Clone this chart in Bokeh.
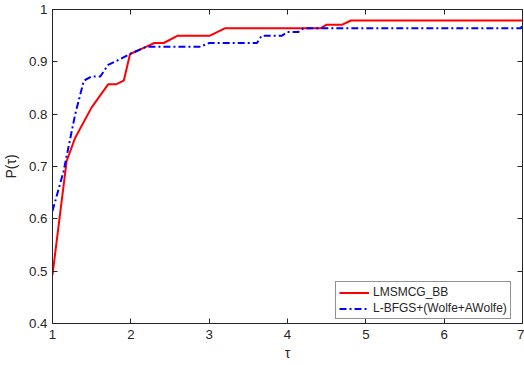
from bokeh.plotting import figure
from bokeh.models import Range1d, FixedTicker, LinearAxis, Legend, LegendItem
from bokeh.embed import file_html
from bokeh.resources import INLINE

# ---- data ----
red_tau = [1.0, 1.18, 1.29, 1.50, 1.71, 1.81, 1.91, 1.99, 2.20, 2.30, 2.42, 2.60, 3.01, 3.20, 4.42, 4.50, 4.70, 4.81, 7.0]
red_p = [0.493, 0.710, 0.755, 0.813, 0.857, 0.857, 0.864, 0.915, 0.929, 0.936, 0.936, 0.950, 0.950, 0.964, 0.964, 0.971, 0.971, 0.979, 0.979]

blue_tau = [1.0, 1.14, 1.29, 1.40, 1.50, 1.61, 1.71, 1.86, 1.99, 2.20, 2.89, 3.0, 3.61, 3.67, 3.93, 4.0, 4.14, 4.2, 6.98, 7.0]
blue_p = [0.615, 0.690, 0.800, 0.864, 0.872, 0.872, 0.894, 0.905, 0.915, 0.929, 0.929, 0.936, 0.936, 0.950, 0.950, 0.957, 0.957, 0.964, 0.964, 0.971]

series_names = ["LMSMCG_BB", "L-BFGS+(Wolfe+AWolfe)"]

x_ticks = [1, 2, 3, 4, 5, 6, 7]
x_tick_labels = ["1", "2", "3", "4", "5", "6", "7"]
y_ticks = [0.4, 0.5, 0.6, 0.7, 0.8, 0.9, 1.0]
y_tick_labels = ["0.4", "0.5", "0.6", "0.7", "0.8", "0.9", "1"]

FONT = "Liberation Sans"
TXT = "#262626"

p = figure(width=524, height=365, output_backend="svg", toolbar_location=None,
           x_range=Range1d(1, 7), y_range=Range1d(0.4, 1.0),
           min_border_left=52, min_border_right=2, min_border_top=9, min_border_bottom=42,
           x_axis_label="τ", y_axis_label="P(τ)")
p.background_fill_color = "white"
p.border_fill_color = "white"
p.outline_line_color = TXT
p.outline_line_width = 1
p.xgrid.visible = False
p.ygrid.visible = False


def style_axis(ax, ticks, labels, show_labels=True):
    ax.ticker = FixedTicker(ticks=ticks)
    ax.minor_tick_line_color = None
    ax.major_tick_in = 5
    ax.major_tick_out = 0
    ax.axis_line_color = TXT
    ax.major_tick_line_color = TXT
    if show_labels:
        ax.major_label_overrides = {t: l for t, l in zip(ticks, labels)}
        ax.major_label_text_font = FONT
        ax.major_label_text_color = TXT
        ax.major_label_text_font_size = "13.3px"
        ax.axis_label_text_font = FONT
        ax.axis_label_text_color = TXT
        ax.axis_label_text_font_style = "normal"
        ax.axis_label_text_font_size = "14px"
    else:
        # mirror axis (box ticks): ticks only, no labels painted
        ax.major_label_text_color = None
        ax.major_label_text_font_size = "1px"
        ax.major_label_standoff = 0


style_axis(p.xaxis[0], x_ticks, x_tick_labels)
style_axis(p.yaxis[0], y_ticks, y_tick_labels)
p.xaxis[0].major_label_standoff = 6
p.xaxis[0].axis_label_standoff = 3
p.yaxis[0].major_label_standoff = 5
p.yaxis[0].axis_label_standoff = 7

top = LinearAxis()
right = LinearAxis()
style_axis(top, x_ticks, x_tick_labels, show_labels=False)
style_axis(right, y_ticks, y_tick_labels, show_labels=False)
p.add_layout(top, "above")
p.add_layout(right, "right")

r1 = p.line(red_tau, red_p, line_color="#ff0000", line_width=2)
r2 = p.line(blue_tau, blue_p, line_color="#0000ff", line_width=2, line_dash="7 3 2 3")

legend = Legend(items=[LegendItem(label=series_names[0], renderers=[r1]),
                       LegendItem(label=series_names[1], renderers=[r2])],
                location=(283, 4), margin=0, padding=3, spacing=2,
                glyph_width=30, glyph_height=13, label_height=13, label_standoff=4,
                label_text_font=FONT, label_text_font_size="12px", label_text_color=TXT,
                border_line_color=TXT, border_line_width=1, background_fill_color="white",
                background_fill_alpha=1)
p.add_layout(legend, "center")

open("out.html", "w").write(file_html(p, INLINE))
